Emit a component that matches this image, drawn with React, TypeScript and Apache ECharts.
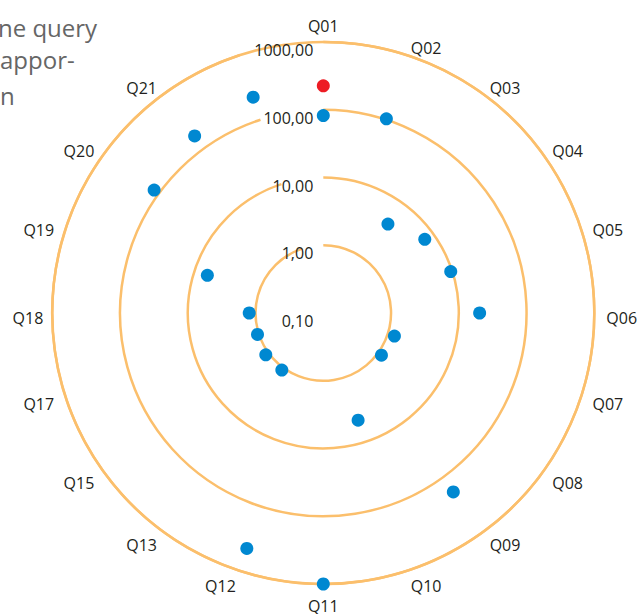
import React, { useEffect, useRef } from "react";
import * as echarts from "echarts";

const categories = ["Q01","Q02","Q03","Q04","Q05","Q06","Q07","Q08","Q09","Q10","Q11","Q12","Q13","Q15","Q17","Q18","Q19","Q20","Q21",""];
const blueValues = [82, 103, 4.2, 7.1, 9.5, 20.3, 1.27, 1.15, 184, 4.6, 1000, 450, 1.1, 1.12, 1.05, 1.24, 6.3, 122, 170, 224];
const redCategory = "Q01";
const redValue = 226;
const radiusTicks = [0.1, 1, 10, 100, 1000];
const titleLines = ["ne query", "appor-", "n"];

const ORANGE = "#FBBF6C";
const FONT = "Open Sans";
const TEXT = "#231f20";

function labelPadding(i: number, n: number): number[] {
  const ang = (i * 360) / n;
  if (ang === 0) return [0, 0, -4, 0];
  if (ang === 180) return [2, 0, 0, 0];
  if (ang === 90) return [10, 0, 0, 0];
  if (ang === 270) return [10, -3, 0, 0];
  if (ang < 90 || ang > 270) return [0, 0, -12, 0];
  return [-4.5, 0, 0, 0];
}

export default function App() {
  const ref = useRef<HTMLDivElement>(null);
  useEffect(() => {
    if (!ref.current) return;
    const chart = echarts.init(ref.current, null, { renderer: "svg" });
    const titleY = [27, 59, 95];
    const center = [323.3, 313];
    chart.setOption({
      animation: false,
      polar: [
        { center, radius: 271 },
        { center, radius: 271 },
      ],
      angleAxis: [
        {
          polarIndex: 0,
          type: "category",
          data: categories.map((c, i) => ({
            value: c,
            textStyle: { padding: labelPadding(i, categories.length) },
          })),
          startAngle: 90,
          clockwise: true,
          boundaryGap: false,
          axisLine: { show: false },
          axisTick: { show: false },
          splitLine: { show: false },
          axisLabel: {
            margin: 12,
            fontFamily: FONT,
            fontSize: 16,
            color: TEXT,
            formatter: (v: string) => (v ? `{a|${v}}` : ""),
            rich: { a: { fontFamily: FONT, fontSize: 16, color: TEXT } },
          },
        },
        {
          polarIndex: 1,
          type: "value",
          min: 0,
          max: 360,
          startAngle: 90,
          axisLine: { show: true, lineStyle: { color: ORANGE, width: 2.5 } },
          axisTick: { show: false },
          axisLabel: { show: false },
          splitLine: { show: false },
        },
      ],
      radiusAxis: [
        {
          polarIndex: 0,
          type: "log",
          logBase: 10,
          min: radiusTicks[0],
          max: radiusTicks[radiusTicks.length - 1],
          axisLine: { show: false },
          axisTick: { show: false },
          splitLine: { show: true, lineStyle: { color: ORANGE, width: 2.5 } },
          axisLabel: {
            fontFamily: FONT,
            fontSize: 16,
            color: TEXT,
            margin: 10,
            align: "right",
            verticalAlign: "top",
            formatter: (v: number) => v.toFixed(2).replace(".", ","),
          },
          z: 5,
        },
        {
          polarIndex: 1,
          type: "value",
          show: false,
          axisLine: { show: false },
          axisLabel: { show: false },
          splitLine: { show: false },
          axisTick: { show: false },
        },
      ],
      series: [
        {
          type: "scatter",
          coordinateSystem: "polar",
          polarIndex: 0,
          symbolSize: 13,
          itemStyle: { color: "#0088D1", opacity: 1 },
          data: blueValues.map((v, i) => [v, i]),
          z: 10,
        },
        {
          type: "scatter",
          coordinateSystem: "polar",
          polarIndex: 0,
          symbolSize: 13,
          itemStyle: { color: "#ED1C24", opacity: 1 },
          data: [[redValue, categories.indexOf(redCategory)]],
          z: 10,
        },
      ],
      graphic: titleLines.map((t, i) => ({
        type: "text",
        x: i === 0 ? -2 : 0,
        y: titleY[i],
        style: {
          text: t,
          fontFamily: FONT,
          fontSize: 24,
          fill: "#666666",
          verticalAlign: "middle",
          align: "left",
        },
      })),
    });
    return () => chart.dispose();
  }, []);
  return (
    <div
      ref={ref}
      style={{ position: "absolute", left: 0, top: 0, width: 638, height: 614 }}
    />
  );
}
